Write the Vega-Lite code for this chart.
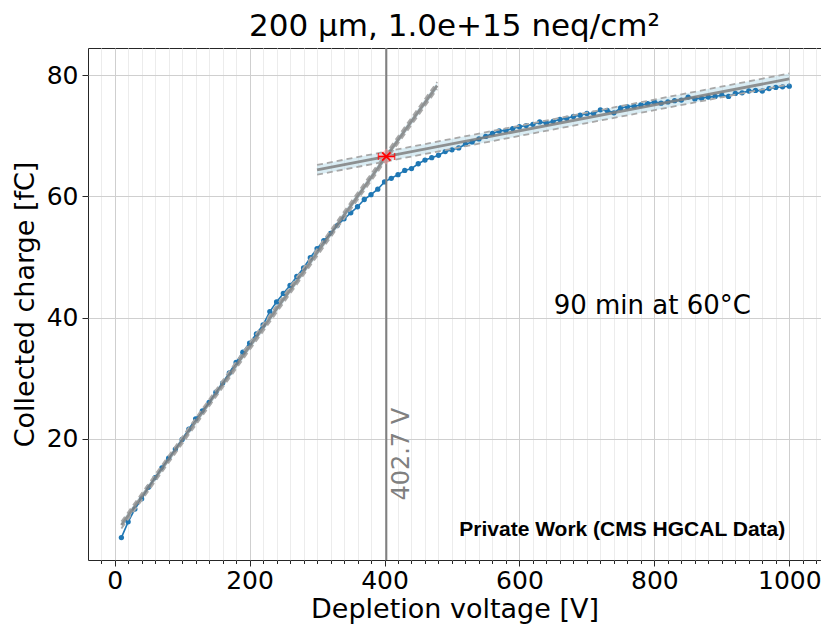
{
  "$schema": "https://vega.github.io/schema/vega-lite/v6.json",
  "width": 733,
  "height": 512,
  "autosize": {"type": "none"},
  "padding": {"left": 88, "top": 48, "right": 0, "bottom": 68},
  "background": "white",
  "title": {"text": "200 μm, 1.0e+15 neq/cm²", "fontSize": 31, "font": "DejaVu Sans", "fontWeight": "normal", "offset": 4, "anchor": "middle", "color": "#000000"},
  "config": {
    "font": "DejaVu Sans",
    "view": {"stroke": "#262626", "strokeWidth": 1},
    "axis": {"domain": false, "labelFont": "DejaVu Sans", "titleFont": "DejaVu Sans", "labelColor": "#000000", "titleColor": "#000000", "tickColor": "#262626", "titleFontWeight": "normal", "labelFontSize": 25, "titleFontSize": 27}
  },
  "datasets": {
    "meas": [
      {"V":10,"Q":3.7},{"V":20,"Q":6.3},{"V":30,"Q":8.4},{"V":40,"Q":10.1},{"V":50,"Q":12.0},
      {"V":60,"Q":13.6},{"V":70,"Q":15.2},{"V":80,"Q":16.8},{"V":90,"Q":18.3},{"V":100,"Q":19.9},
      {"V":110,"Q":21.6},{"V":120,"Q":23.3},{"V":130,"Q":24.6},{"V":140,"Q":26.0},{"V":150,"Q":27.7},
      {"V":160,"Q":29.2},{"V":170,"Q":30.9},{"V":180,"Q":32.6},{"V":190,"Q":34.3},{"V":200,"Q":35.8},
      {"V":210,"Q":37.3},{"V":220,"Q":38.8},{"V":230,"Q":41.0},{"V":240,"Q":42.6},{"V":250,"Q":44.0},
      {"V":260,"Q":45.3},{"V":270,"Q":46.8},{"V":280,"Q":48.2},{"V":290,"Q":49.9},{"V":300,"Q":51.4},
      {"V":310,"Q":52.7},{"V":320,"Q":53.9},{"V":330,"Q":55.2},{"V":340,"Q":56.3},{"V":350,"Q":57.3},
      {"V":360,"Q":58.3},{"V":370,"Q":59.5},{"V":380,"Q":60.3},{"V":390,"Q":61.2},{"V":400,"Q":62.4},
      {"V":410,"Q":63.0},{"V":420,"Q":63.6},{"V":430,"Q":64.3},{"V":440,"Q":64.6},{"V":450,"Q":65.4},
      {"V":460,"Q":66.0},{"V":470,"Q":66.4},{"V":480,"Q":66.8},{"V":490,"Q":67.4},{"V":500,"Q":67.7},
      {"V":510,"Q":68.0},{"V":520,"Q":68.6},{"V":530,"Q":69.0},{"V":540,"Q":69.5},{"V":550,"Q":69.9},
      {"V":560,"Q":70.4},{"V":570,"Q":70.8},{"V":580,"Q":70.9},{"V":590,"Q":71.2},{"V":600,"Q":71.5},
      {"V":610,"Q":71.7},{"V":620,"Q":71.9},{"V":630,"Q":72.3},{"V":640,"Q":72.1},{"V":650,"Q":72.4},
      {"V":660,"Q":72.7},{"V":670,"Q":72.9},{"V":680,"Q":73.2},{"V":690,"Q":73.4},{"V":700,"Q":73.7},
      {"V":710,"Q":73.7},{"V":720,"Q":74.3},{"V":730,"Q":74.2},{"V":740,"Q":73.8},{"V":750,"Q":74.6},
      {"V":760,"Q":74.8},{"V":770,"Q":74.9},{"V":780,"Q":75.1},{"V":790,"Q":75.3},{"V":800,"Q":75.6},
      {"V":810,"Q":75.4},{"V":820,"Q":75.6},{"V":830,"Q":75.8},{"V":840,"Q":75.9},{"V":850,"Q":76.4},
      {"V":860,"Q":76.1},{"V":870,"Q":76.2},{"V":880,"Q":76.4},{"V":890,"Q":76.5},{"V":900,"Q":76.7},
      {"V":910,"Q":76.5},{"V":920,"Q":77.0},{"V":930,"Q":77.1},{"V":940,"Q":77.4},{"V":950,"Q":77.5},
      {"V":960,"Q":77.4},{"V":970,"Q":77.8},{"V":980,"Q":78.0},{"V":990,"Q":78.1},{"V":1000,"Q":78.2}
    ],
    "band": [
      {"fit":"low","V":10,"Q":5.2,"Q2":6.35},
      {"fit":"low","V":478,"Q":77.7,"Q2":78.9},
      {"fit":"high","V":300,"Q":63.6,"Q2":65.2},
      {"fit":"high","V":1000,"Q":78.5,"Q2":80.3}
    ],
    "edges": [
      {"fit":"low","edge":"lo","V":10,"Q":5.2},
      {"fit":"low","edge":"lo","V":478,"Q":77.7},
      {"fit":"low","edge":"hi","V":10,"Q":6.35},
      {"fit":"low","edge":"hi","V":478,"Q":78.9},
      {"fit":"high","edge":"lo","V":300,"Q":63.6},
      {"fit":"high","edge":"lo","V":1000,"Q":78.5},
      {"fit":"high","edge":"hi","V":300,"Q":65.2},
      {"fit":"high","edge":"hi","V":1000,"Q":80.3}
    ],
    "fitline": [
      {"fit":"low","V":10,"Q":5.77},
      {"fit":"low","V":478,"Q":78.3},
      {"fit":"high","V":300,"Q":64.4},
      {"fit":"high","V":1000,"Q":79.4}
    ],
    "vline": [{"V":402.7,"Q":0,"Q2":84.5}],
    "kink": [{"V":402.7,"Q":66.6}],
    "err": [{"V":391,"Q":66.6},{"V":415,"Q":66.6}],
    "vlabel": [{"V":402.7,"Q":9.8,"t":"402.7 V"}],
    "note": [{"V":797,"Q":42,"t":"90 min at 60°C"}],
    "priv": [{"V":994,"Q":4.0,"t":"Private Work (CMS HGCAL Data)"}]
  },
  "encoding": {
    "x": {"field": "V", "type": "quantitative", "title": "Depletion voltage [V]",
      "scale": {"domain": [-39.5, 1047], "nice": false, "zero": false},
      "axis": {
        "values": [-20,0,20,40,60,80,100,120,140,160,180,200,220,240,260,280,300,320,340,360,380,400,420,440,460,480,500,520,540,560,580,600,620,640,660,680,700,720,740,760,780,800,820,840,860,880,900,920,940,960,980,1000,1020,1040],
        "format": "d",
        "labelExpr": "datum.value % 200 === 0 ? datum.label : ''",
        "labelOverlap": false,
        "labelFlush": false,
        "grid": true,
        "gridColor": {"condition": {"test": "datum.value % 200 === 0", "value": "#cfcfcf"}, "value": "#ececec"},
        "gridWidth": 1,
        "tickSize": {"condition": {"test": "datum.value % 200 === 0", "value": 6}, "value": 3.5},
        "tickWidth": 1,
        "labelPadding": 2,
        "titlePadding": 3
      }
    },
    "y": {"field": "Q", "type": "quantitative", "title": "Collected charge [fC]",
      "scale": {"domain": [0, 84.5], "nice": false, "zero": false},
      "axis": {"values": [20, 40, 60, 80], "grid": true, "gridColor": "#cfcfcf", "tickSize": 6, "labelPadding": 4, "titlePadding": 7}
    }
  },
  "layer": [
    {
      "data": {"name": "band"},
      "mark": {"type": "area", "color": "#add8e6", "opacity": 0.45},
      "encoding": {"y2": {"field": "Q2"}, "detail": {"field": "fit"}}
    },
    {
      "data": {"name": "meas"},
      "mark": {"type": "line", "color": "#1f77b4", "strokeWidth": 1.6, "point": {"filled": true, "size": 28, "color": "#1f77b4"}}
    },
    {
      "data": {"name": "edges"},
      "mark": {"type": "line", "color": "#a8a8a8", "strokeWidth": 1.8, "strokeDash": [6, 4]},
      "encoding": {"detail": [{"field": "fit"}, {"field": "edge"}]}
    },
    {
      "data": {"name": "fitline"},
      "mark": {"type": "line", "color": "#7f7f7f", "strokeWidth": 2.8, "opacity": 0.85},
      "encoding": {"detail": {"field": "fit"}}
    },
    {
      "data": {"name": "vline"},
      "mark": {"type": "rule", "color": "#808080", "strokeWidth": 2},
      "encoding": {"y2": {"field": "Q2"}}
    },
    {
      "data": {"name": "kink"},
      "mark": {"type": "point", "filled": true, "color": "#ff9a9a", "opacity": 0.5, "size": 260, "shape": "diamond"}
    },
    {
      "data": {"name": "err"},
      "mark": {"type": "line", "color": "#ff0000", "strokeWidth": 1.5}
    },
    {
      "data": {"name": "err"},
      "mark": {"type": "tick", "color": "#ff0000", "orient": "vertical", "size": 7, "thickness": 1.5}
    },
    {
      "data": {"name": "kink"},
      "mark": {"type": "point", "shape": "M-1,-1L1,1M-1,1L1,-1", "filled": false, "stroke": "#ff0000", "strokeWidth": 1.8, "size": 70, "opacity": 1}
    },
    {
      "data": {"name": "vlabel"},
      "mark": {"type": "text", "angle": 270, "align": "left", "baseline": "middle", "dy": 16, "fontSize": 24, "color": "#808080", "font": "DejaVu Sans"},
      "encoding": {"text": {"field": "t"}}
    },
    {
      "data": {"name": "note"},
      "mark": {"type": "text", "align": "center", "baseline": "middle", "fontSize": 26, "color": "#000000", "font": "DejaVu Sans"},
      "encoding": {"text": {"field": "t"}}
    },
    {
      "data": {"name": "priv"},
      "mark": {"type": "text", "align": "right", "baseline": "alphabetic", "fontSize": 21, "fontWeight": "bold", "color": "#000000", "font": "Liberation Sans"},
      "encoding": {"text": {"field": "t"}}
    }
  ]
}
